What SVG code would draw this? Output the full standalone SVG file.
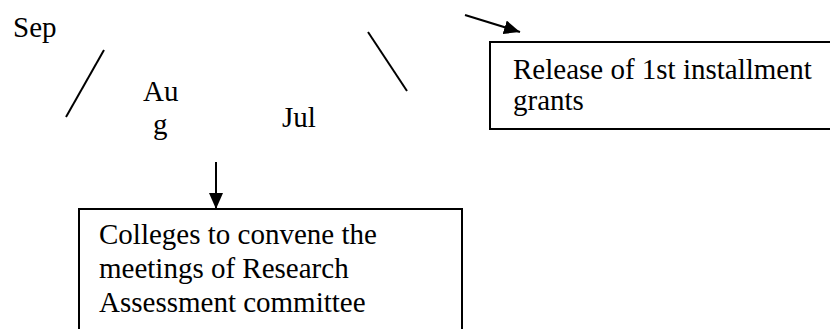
<svg xmlns="http://www.w3.org/2000/svg" width="830" height="329" viewBox="0 0 830 329">
<defs>
<marker id="ah" viewBox="0 0 16 14" refX="16" refY="7" markerWidth="16" markerHeight="14" markerUnits="userSpaceOnUse" orient="auto">
<path d="M0,0 L16,7 L0,14 z" fill="#000"/>
</marker>
<style>
text{font-family:"Liberation Serif","Times New Roman",serif;font-size:29px;fill:#000}
.box{fill:#fff;stroke:#000;stroke-width:2}
.ln{stroke:#000;stroke-width:2;fill:none}
</style>
</defs>
<rect width="830" height="329" fill="#fff"/>
<g id="sep"><text x="13" y="37">Sep</text></g>
<g id="aug"><text x="143" y="101">Au</text><text x="153" y="134">g</text></g>
<g id="jul"><text x="282" y="127">Jul</text></g>
<g id="release">
<rect class="box" x="490" y="42" width="360" height="87"/>
<text x="513" y="79">Release of 1st installment</text>
<text x="513" y="110">grants</text>
</g>
<g id="colleges">
<rect class="box" x="79" y="209" width="383" height="140"/>
<text x="99" y="244">Colleges to convene the</text>
<text x="99" y="278">meetings of Research</text>
<text x="99" y="312">Assessment committee</text>
</g>
<g id="connectors">
<line class="ln" x1="104" y1="50" x2="66" y2="117"/>
<line class="ln" x1="368" y1="32" x2="407" y2="91"/>
<line class="ln" x1="465" y1="15" x2="520" y2="32" marker-end="url(#ah)"/>
<line class="ln" x1="216" y1="162" x2="216" y2="209" marker-end="url(#ah)"/>
</g>
</svg>
